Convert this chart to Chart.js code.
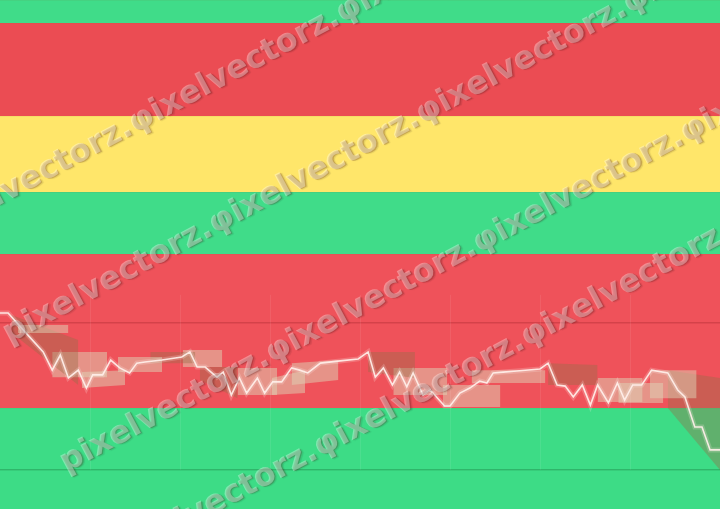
<!DOCTYPE html>
<html lang="en">
<head>
    <meta charset="UTF-8">
    <title>Striped price chart</title>
    <script src="https://cdn.jsdelivr.net/npm/chart.js"></script>
    <style>
        body { margin: 0; background: #40dc89; }
        #wrap { position: relative; width: 720px; height: 509px; overflow: hidden; }
        .mark {
            position: absolute;
            white-space: nowrap;
            font-family: "DejaVu Sans", sans-serif;
            font-weight: bold;
            font-size: 32px;
            color: rgba(255, 255, 255, 0.34);
            text-shadow: 1px 1px 0 rgba(90, 20, 20, 0.22), 2px 2px 1px rgba(0, 0, 0, 0.1);
            transform-origin: 0 0;
            transform: rotate(-28deg);
            pointer-events: none;
        }
    </style>
</head>
<body>
    <div id="wrap">
        <canvas id="priceChart"></canvas>
        <span class="mark" style="left:-85px; top:216px;">pixelvectorz.φixelvectorz.φixelvectorz.φixelvectorz.</span>
        <span class="mark" style="left:-5px; top:317px;">pixelvectorz.φixelvectorz.φixelvectorz.φixelvectorz.</span>
        <span class="mark" style="left:52px; top:446px;">pixelvectorz.φixelvectorz.φixelvectorz.φixelvectorz.</span>
        <span class="mark" style="left:100px; top:540px;">pixelvectorz.φixelvectorz.φixelvectorz.φixelvectorz.</span>
    </div>

    <script>
// price line
const timeX = [0, 0.9, 3.3, 4.8, 5.8, 6.7, 7.6, 8.7, 9.6, 10.3, 11.4, 12.3, 13.3, 14.4, 15.2, 16.1, 18, 20.2, 21.1, 21.9,
    22.8, 24.1, 24.8, 25.7, 26.6, 27.4, 28.6, 29.4, 30.3, 31.3, 32.4, 33.3, 34.2, 35.6, 37.8, 39.8, 40.9, 41.7, 42.6, 43.6,
    44.4, 45.2, 45.9, 47, 47.8, 49.4, 50, 51.1, 52.2, 53.3, 54.1, 54.8, 55.9, 57.4, 60, 60.9, 61.9, 62.8, 63.7, 64.7,
    65.6, 66.4, 67.6, 68.6, 69.4, 70.3, 71.3, 72.4, 74.2, 75.3, 76.1, 77.2, 78, 78.9, 80];
const closeY = [6.95, 6.95, 6.09, 5.56, 4.91, 5.45, 4.63, 4.91, 4.27, 4.74, 4.74, 5.27, 4.99, 4.81, 5.16, 5.2, 5.27, 5.38, 5.56, 5.02,
    5.02, 4.66, 4.84, 4.02, 4.63, 4.09, 4.63, 4.09, 4.49, 4.49, 4.99, 4.91, 4.81, 5.16, 5.24, 5.31, 5.56, 4.66, 4.99, 4.38,
    4.84, 4.31, 4.81, 4.02, 4.2, 3.63, 3.63, 4.09, 4.27, 4.52, 4.45, 4.81, 4.84, 4.88, 4.95, 5.16, 4.38, 4.34, 3.95, 4.38,
    3.66, 4.38, 3.74, 4.45, 3.84, 4.38, 4.38, 4.91, 4.81, 4.2, 3.95, 2.88, 2.88, 2.06, 2.06];

// background bands (top and bottom level of each)
const bandTop = [18.13, 17.31, 13.99, 11.27, 9.06, 3.56];
const bandBottom = [17.31, 13.99, 11.27, 9.06, 3.56, -0.05];
const refLevels = [6.6, 1.35];
const gridLevels = [3, 4, 5, 6];
const vGridX = [10, 20, 30, 40, 50, 60, 70];

// translucent boxes
const boxFrom = [2.0, 1.3, 5.8, 9.1, 13.1, 16.7, 20.3, 22.2, 26.4, 30.2, 32.4, 40.9, 43.7, 49.2, 52.4, 60.9, 66.4, 68.7, 72.2, 74.2];
const boxTo = [7.6, 8.7, 11.9, 13.9, 18, 21.7, 24.7, 26.4, 30.8, 33.9, 37.6, 46.1, 49.7, 55.6, 60.6, 66.4, 71.4, 73.7, 77.4, 80];
const boxTopL = [6.52, 6.88, 5.56, 4.84, 5.38, 5.56, 5.63, 5.02, 4.99, 4.63, 5.16, 5.56, 4.99, 4.38, 4.91, 5.16, 4.63, 4.45, 4.91, 4.91];
const boxTopR = [6.52, 5.99, 5.56, 4.91, 5.38, 5.56, 5.63, 5.02, 4.99, 4.91, 5.27, 5.56, 4.99, 4.38, 4.91, 5.09, 4.63, 4.45, 4.91, 4.63];
const boxLowL = [6.24, 6.24, 4.66, 4.27, 4.84, 5.16, 5.02, 4.56, 4.02, 4.02, 4.38, 4.84, 4.02, 3.59, 4.45, 4.38, 3.77, 3.74, 3.91, 3.56];
const boxLowR = [6.24, 4.38, 4.66, 4.38, 4.84, 5.16, 5.02, 3.91, 4.02, 4.09, 4.56, 4.63, 4.02, 3.59, 4.45, 4.38, 3.77, 3.74, 3.91, 1.34];
const boxKind = ['l', 'b', 'l', 'l', 'l', 'b', 'l', 'b', 'l', 'l', 'l', 'b', 'l', 'l', 'l', 'b', 'l', 'l', 'l', 'b'];

const bandColors = ['#40dc89', '#eb4c53', '#ffe66a', '#40dc89', '#ef525a', '#3ddc86'];
const refColors = ['rgba(170, 40, 48, 0.55)', 'rgba(30, 130, 70, 0.6)'];
const boxColors = { l: 'rgba(222, 212, 182, 0.5)', b: 'rgba(150, 110, 72, 0.4)' };

const datasets = [];

// the line itself plus a soft glow
const pricePoints = timeX.map((x, i) => ({ x: x, y: closeY[i] }));
datasets.push({ data: pricePoints, borderColor: 'rgba(255, 240, 234, 0.92)', borderWidth: 1.6, pointRadius: 0, order: 1 });
datasets.push({ data: pricePoints, borderColor: 'rgba(255, 235, 230, 0.22)', borderWidth: 5, pointRadius: 0, order: 2 });

refLevels.forEach((lvl, i) => {
    datasets.push({
        data: [{ x: 0, y: lvl }, { x: 80, y: lvl }],
        borderColor: refColors[i], borderWidth: 1, pointRadius: 0, order: 3
    });
});

boxFrom.forEach((x0, i) => {
    datasets.push({
        data: [{ x: x0, y: boxTopL[i] }, { x: boxTo[i], y: boxTopR[i] }],
        borderWidth: 0, borderColor: 'transparent', pointRadius: 0,
        backgroundColor: boxColors[boxKind[i]], fill: '+1', order: 5
    });
    datasets.push({
        data: [{ x: x0, y: boxLowL[i] }, { x: boxTo[i], y: boxLowR[i] }],
        borderWidth: 0, borderColor: 'transparent', pointRadius: 0, order: 5
    });
});

bandTop.forEach((top, i) => {
    datasets.push({
        data: [{ x: 0, y: top }, { x: 80, y: top }],
        borderColor: 'rgba(120, 110, 60, 0.18)', borderWidth: 1, pointRadius: 0,
        backgroundColor: bandColors[i], fill: { value: bandBottom[i] }, order: 10
    });
});

// faint vertical grid, only across the lower part of the chart
const vGrid = {
    id: 'vGrid',
    afterDatasetsDraw(chart) {
        const { ctx, scales: { x, y } } = chart;
        ctx.save();
        ctx.strokeStyle = 'rgba(255, 255, 255, 0.08)';
        ctx.lineWidth = 1;
        vGridX.forEach(v => {
            const px = Math.round(x.getPixelForValue(v)) + 0.5;
            ctx.beginPath();
            ctx.moveTo(px, y.getPixelForValue(7.6));
            ctx.lineTo(px, y.getPixelForValue(1.35));
            ctx.stroke();
        });
        ctx.restore();
    }
};

new Chart(document.getElementById('priceChart'), {
    type: 'line',
    data: { datasets: datasets },
    options: {
        responsive: true,
        maintainAspectRatio: false,
        animation: false,
        layout: { padding: 0 },
        plugins: { legend: { display: false }, tooltip: { enabled: false } },
        scales: {
            x: { type: 'linear', min: 0, max: 80, display: false },
            y: {
                min: -0.05,
                max: 18.13,
                z: 1,
                border: { display: false },
                ticks: { display: false, stepSize: 1 },
                grid: {
                    drawTicks: false,
                    color: ctx => gridLevels.includes(ctx.tick.value) ? 'rgba(255, 255, 255, 0.14)' : 'transparent'
                }
            }
        }
    },
    plugins: [vGrid]
});
    </script>
</body>
</html>
